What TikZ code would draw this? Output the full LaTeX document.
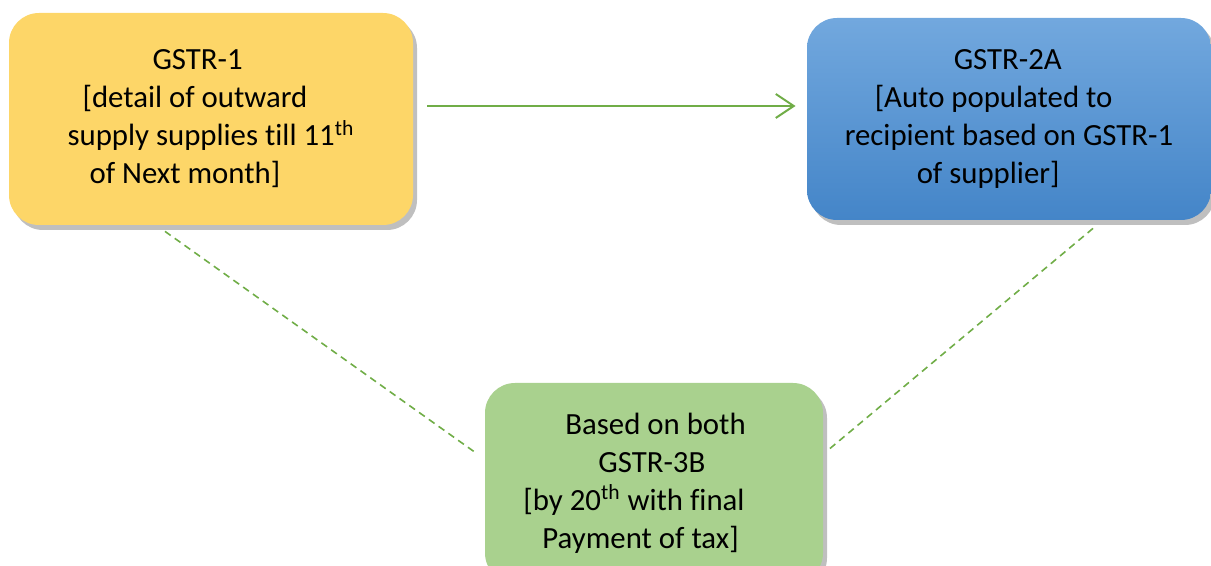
\documentclass[tikz,border=0pt]{standalone}
\usepackage{fontspec}
\setmainfont{Carlito}[Ligatures = NoCommon]
\usepackage{tikz}
\usetikzlibrary{arrows.meta}
\usetikzlibrary{shadows}
\definecolor{mgold}{HTML}{FDD668}
\definecolor{mgreen}{HTML}{A9D18E}
\definecolor{mblueA}{HTML}{72A8DE}
\definecolor{mblueB}{HTML}{4485C8}
\definecolor{mline}{HTML}{70AD47}
\tikzset{retbox/.style = {rounded corners = 15pt, inner sep = 0, align = left,
    font = \fontsize{15.4}{19}\selectfont,
    drop shadow = {shadow xshift = 2pt, shadow yshift = -2.5pt, fill = black, opacity = 0.25}}}
\tikzset{flow/.style = {mline, line width = 1pt}}
\tikzset{link/.style = {mline, line width = 0.8pt, dash pattern = on 3.5pt off 2.5pt}}

\begin{document}
\begin{tikzpicture}[x = 0.5pt, y = -0.5pt]
      \useasboundingbox (0, 0) rectangle (1211, 566);

      \node [retbox, fill = mgold, minimum width = 202pt, minimum height = 106pt] (gstr1) at (211, 119)
        {\hspace*{42.5pt}GSTR-1\\ \hspace*{7.5pt}[detail of outward\\ supply supplies till 11\textsuperscript{th}\\ \hspace*{11pt}of Next month]};
      \node [retbox, top color = mblueA, bottom color = mblueB, minimum width = 202pt, minimum height = 101pt] (gstr2a) at (1009, 119)
        {\hspace*{54.5pt}GSTR-2A\\ \hspace*{15pt}[Auto populated to\\ recipient based on GSTR-1\\ \hspace*{36pt}of supplier]};
      \node [retbox, fill = mgreen, minimum width = 169pt, minimum height = 100pt] (gstr3b) at (654, 483)
        {\hspace*{21pt}Based on both\\ \hspace*{37.5pt}GSTR-3B\\ {[}by 20\textsuperscript{th} with final\hspace*{20pt}\mbox{}\\ \hspace*{9.5pt}Payment of tax]};

      \draw [flow, -{Straight Barb[length = 9pt, width = 12pt, line width = 1pt]}]
        ([xshift = 7pt, yshift = 6.5pt]gstr1.east) -- ([xshift = -5.5pt, yshift = 6.5pt]gstr2a.west);
      \draw [link] ([xshift = -23pt, yshift = -3pt]gstr1.south) -- ([xshift = -5pt, yshift = 15.5pt]gstr3b.west);
      \draw [link] ([xshift = 42pt, yshift = -4pt]gstr2a.south) -- ([xshift = 3pt, yshift = 17pt]gstr3b.east);
\end{tikzpicture}
\end{document}
